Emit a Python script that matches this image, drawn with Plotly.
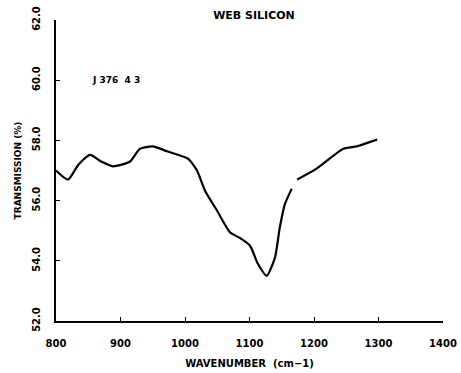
import plotly.graph_objects as go

# Data
wavenumber = [800, 818.6, 835, 852.7, 870, 888, 914.7, 930, 950, 972, 992, 1005, 1018.6, 1031,
              1049.6, 1070, 1085, 1100.8, 1113, 1126.6, 1139.5, 1147, 1155, 1165.4,
              None,
              1174, 1204, 1245.4, 1266, 1281.6, 1298]
transmission = [57.0, 56.7, 57.2, 57.52, 57.3, 57.14, 57.3, 57.72, 57.8, 57.64, 57.5, 57.39, 57.0, 56.33,
                55.67, 54.94, 54.76, 54.5, 53.9, 53.5, 54.11, 55.11, 55.89, 56.39,
                None,
                56.7, 57.06, 57.72, 57.8, 57.91, 58.03]

x_ticks = [800, 900, 1000, 1100, 1200, 1300, 1400]
y_ticks = [52, 54, 56, 58, 60, 62]
y_tick_labels = ["52.0", "54.0", "56.0", "58.0", "60.0", "62.0"]

FONT = "DejaVu Sans"

fig = go.Figure()
fig.add_trace(go.Scatter(
    x=wavenumber, y=transmission, mode="lines",
    line=dict(color="black", width=2.2, shape="spline", smoothing=0.6),
    connectgaps=False, showlegend=False, hoverinfo="skip"))

fig.update_layout(
    width=461, height=373,
    margin=dict(l=56, r=18, t=20, b=52),
    paper_bgcolor="white", plot_bgcolor="white",
    title=dict(text="<b>WEB SILICON</b>", x=254/461, xanchor="center", y=1-15/373, yanchor="middle",
               font=dict(family=FONT, size=11, color="black")),
    font=dict(family=FONT, color="black"),
)
fig.update_xaxes(
    range=[800, 1400], tickvals=x_ticks, ticktext=[f"<b>{v}</b>" for v in x_ticks],
    showgrid=False, zeroline=False, showline=True, linecolor="black", linewidth=1.5,
    ticks="inside", ticklen=4, tickcolor="black", ticklabelstandoff=12, automargin=False,
    tickfont=dict(family=FONT, size=10, color="black"),
    title=dict(text="<b>WAVENUMBER  (cm−1)</b>", font=dict(family=FONT, size=10, color="black"), standoff=12),
)
fig.update_yaxes(
    range=[52, 62], tickvals=y_ticks, ticktext=[f"<b>{t}</b>" for t in y_tick_labels],
    tickangle=-90,
    showgrid=False, zeroline=False, showline=True, linecolor="black", linewidth=1.5,
    ticks="inside", ticklen=4, tickcolor="black", ticklabelstandoff=10, automargin=False,
    tickfont=dict(family=FONT, size=10, color="black"),
    title=dict(text="<b>TRANSMISSION (%)</b>", font=dict(family=FONT, size=9, color="black"), standoff=8),
)
fig.add_annotation(x=852, y=60.0, xref="x", yref="y", text="<b>J 376  4 3</b>",
                   showarrow=False, xanchor="left", yanchor="middle",
                   font=dict(family=FONT, size=9, color="black"))

fig.write_html("out.html")
